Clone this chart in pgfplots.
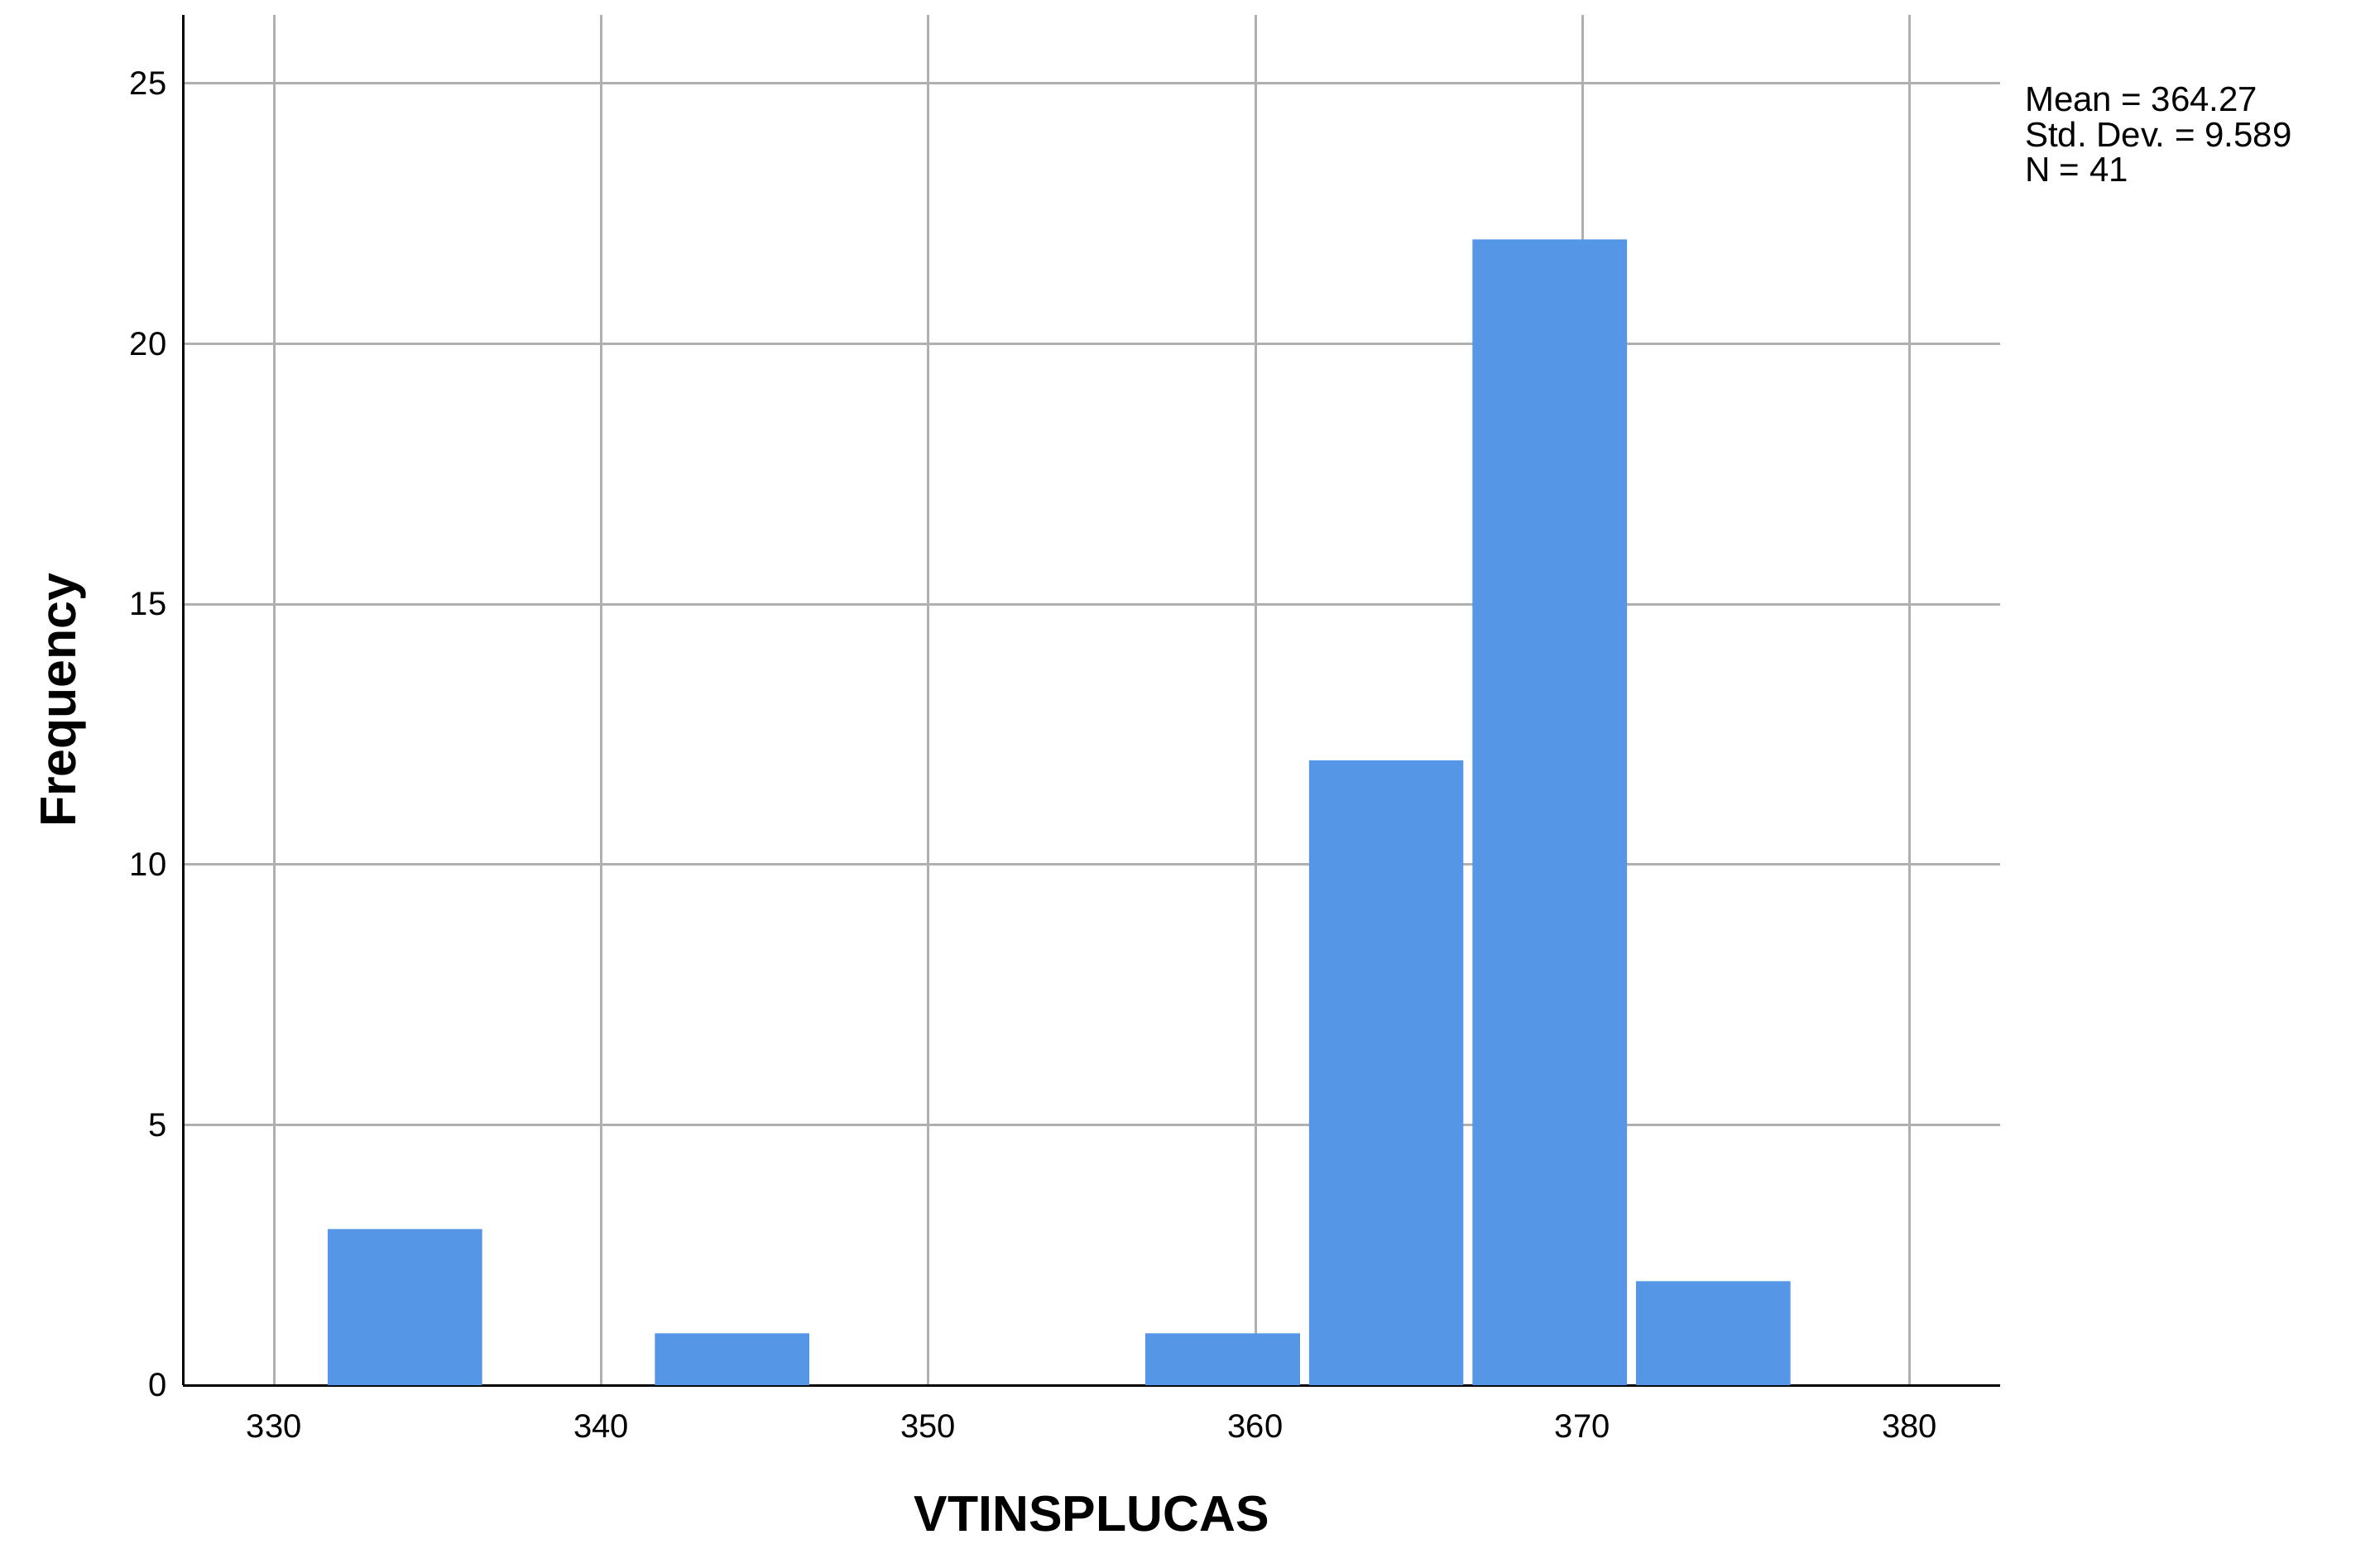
\documentclass[border=0pt]{standalone}
\usepackage{fontspec}
\setmainfont{Liberation Sans}
\usepackage{pgfplots}
\pgfplotsset{compat=1.18}
\definecolor{barblue}{RGB}{85,150,230}
\definecolor{gridgray}{RGB}{176,176,176}
\frenchspacing
\begin{document}
\begin{tikzpicture}
\path[use as bounding box] (0,0) rectangle (717.5pt,473.75pt);
\begin{axis}[
  at={(55.35pt,55.2pt)}, anchor=south west,
  scale only axis, width=548.9pt, height=414pt,
  xmin=327.22, xmax=382.77, ymin=0, ymax=26.31,
  clip=false,
  xtick={330,340,...,380}, ytick={0,5,...,25},
  grid=major, major grid style={gridgray, line width=0.75pt},
  major tick length=0pt,
  axis x line*=bottom, axis y line*=left,
  axis line style={-, black, line width=0.75pt},
  ticklabel style={font=\fontsize{10}{12}\selectfont},
  /pgf/number format/assume math mode=true,
  yticklabel style={xshift=-1.5pt},
  xticklabel style={yshift=-5.3pt},
  xlabel={VTINSPLUCAS}, ylabel={Frequency},
  label style={font=\bfseries\fontsize{15.2}{18}\selectfont},
  xlabel style={at={(axis description cs:0.5,-0.094)}, anchor=center},
  ylabel style={at={(axis description cs:-0.066,0.5)}, anchor=center},
  ybar, bar width=4.72,
]
\addplot[fill=barblue, draw=none] coordinates {(334,3) (344,1) (359,1) (364,12) (369,22) (374,2)};
\node[anchor=north west, inner sep=0pt, align=left, font=\fontsize{10.5}{10.65}\selectfont\frenchspacing] at (rel axis cs:1.0133,0.948) {Mean = 364.27\\Std. Dev. = 9.589\\N = 41};
\end{axis}
\end{tikzpicture}
\end{document}
